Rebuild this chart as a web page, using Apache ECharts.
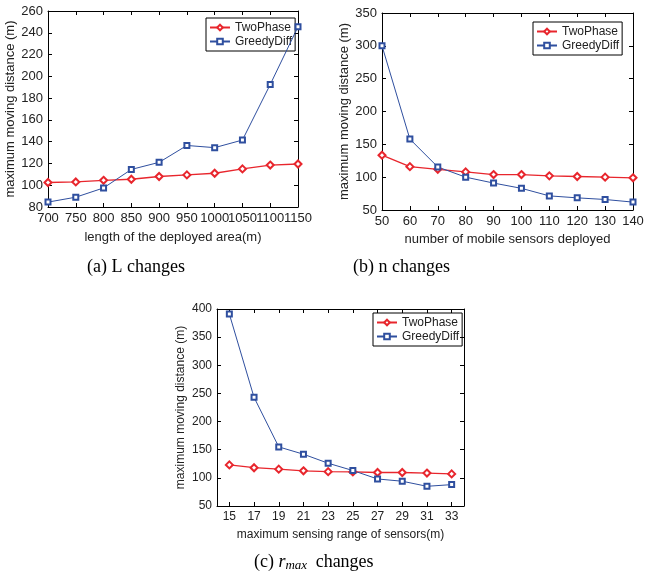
<!DOCTYPE html>
<html><head><meta charset="utf-8">
<script src="https://cdn.jsdelivr.net/npm/echarts@6/dist/echarts.min.js"></script>
<style>html,body{margin:0;padding:0;background:#fff}#c{width:647px;height:579px}</style>
</head><body><div id="c"></div>
<script>
// (a) L changes
const xA = [700, 750, 800, 850, 900, 950, 1000, 1050, 1100, 1150];
const twoA = [102.5, 103, 104.5, 105.5, 108, 109.5, 111, 115, 118.5, 119.5];
const greedyA = [84.5, 89, 97.5, 114.5, 121, 136.5, 134.5, 141.5, 192.5, 245.5];
// (b) n changes
const xB = [50, 60, 70, 80, 90, 100, 110, 120, 130, 140];
const twoB = [133.5, 116, 112, 108, 104, 104, 102, 101, 100, 99];
const greedyB = [300, 158, 115.5, 100, 91, 83, 71.5, 68.5, 66, 62];
// (c) r_max changes
const xC = [15, 17, 19, 21, 23, 25, 27, 29, 31, 33];
const twoC = [123, 118, 115.5, 112.5, 111, 110.5, 109.5, 109.5, 108.5, 107];
const greedyC = [391, 243, 155, 142, 126, 113, 98, 94, 85, 88];
const seriesNames = ['TwoPhase', 'GreedyDiff'];
const xTitles = ['length of the deployed area(m)', 'number of mobile sensors deployed', 'maximum sensing range of sensors(m)'];
const yTitle = 'maximum moving distance (m)';
const captions = ['(a) L changes', '(b) n changes'];

const RED = '#e8262d', BLUE = '#2f4f9f';
const FONT = 'Liberation Sans';
const pairs = (xs, ys) => xs.map((x, i) => [x, ys[i]]);
const plain = v => String(v);

const grids = [
  {left: 48, top: 11, width: 250, height: 196},
  {left: 382, top: 13, width: 251, height: 197},
  {left: 217, top: 309, width: 247, height: 197}
];
const xCfg = [
  {min: 700, max: 1150, interval: 50},
  {min: 50, max: 140, interval: 10},
  {min: 14, max: 34, custom: xC}
];
const yCfg = [
  {min: 80, max: 260, interval: 20},
  {min: 50, max: 350, interval: 50},
  {min: 50, max: 400, interval: 50}
];
const fs = [13, 13, 12];
const xGap = [24, 23, 23];
const yGap = [27, 27, 30];

const xAxis = [], yAxis = [];
grids.forEach((g, i) => {
  const line = {show: true, lineStyle: {color: '#000', width: 1}};
  const baseX = {type: 'value', gridIndex: i, min: xCfg[i].min, max: xCfg[i].max, splitLine: {show: false}, axisLine: line};
  if (xCfg[i].interval) baseX.interval = xCfg[i].interval;
  const tickX = {show: true, inside: true, length: 4, lineStyle: {color: '#000'}};
  if (xCfg[i].custom) tickX.customValues = xCfg[i].custom;
  const lblX = {show: true, color: '#222', fontFamily: FONT, fontSize: fs[i], margin: 5,
    formatter: plain, hideOverlap: false, showMinLabel: true, showMaxLabel: true};
  if (xCfg[i].custom) lblX.customValues = xCfg[i].custom;
  xAxis.push(Object.assign({}, baseX, {position: 'bottom', axisTick: tickX, axisLabel: lblX,
    name: xTitles[i], nameLocation: 'middle', nameGap: xGap[i],
    nameTextStyle: {fontFamily: FONT, fontSize: fs[i], color: '#222'}}));
  xAxis.push(Object.assign({}, baseX, {position: 'top', axisTick: tickX, axisLabel: {show: false}}));
  const baseY = {type: 'value', gridIndex: i, min: yCfg[i].min, max: yCfg[i].max, interval: yCfg[i].interval, splitLine: {show: false}, axisLine: line};
  const tickY = {show: true, inside: true, length: 4, lineStyle: {color: '#000'}};
  yAxis.push(Object.assign({}, baseY, {position: 'left', axisTick: tickY,
    axisLabel: {show: true, color: '#222', fontFamily: FONT, fontSize: fs[i], margin: 5, formatter: plain},
    name: yTitle, nameLocation: 'middle', nameGap: yGap[i],
    nameTextStyle: {fontFamily: FONT, fontSize: fs[i], color: '#222'}}));
  yAxis.push(Object.assign({}, baseY, {position: 'right', axisTick: tickY, axisLabel: {show: false}}));
});

const data = [[twoA, greedyA, xA], [twoB, greedyB, xB], [twoC, greedyC, xC]];
const series = [];
data.forEach((d, i) => {
  series.push({name: seriesNames[0], type: 'line', xAxisIndex: 2 * i, yAxisIndex: 2 * i,
    data: pairs(d[2], d[0]), symbol: 'emptyDiamond', symbolSize: 7, clip: false, z: 5,
    color: RED, lineStyle: {color: RED, width: 1.3}, itemStyle: {color: RED, borderColor: RED, borderWidth: 1.2},
    emphasis: {disabled: true}, animation: false});
  series.push({name: seriesNames[1], type: 'line', xAxisIndex: 2 * i, yAxisIndex: 2 * i,
    data: pairs(d[2], d[1]), symbol: 'emptyRect', symbolSize: 5, clip: false, z: 5,
    color: BLUE, lineStyle: {color: BLUE, width: 1}, itemStyle: {color: BLUE, borderColor: BLUE, borderWidth: 1},
    emphasis: {disabled: true}, animation: false});
});

const legPos = [
  {left: 206, top: 18},
  {left: 533, top: 22},
  {left: 373, top: 313}
];
const legend = legPos.map((p, i) => ({
  left: p.left, top: p.top, orient: 'vertical', align: 'left', z: 1,
  data: seriesNames, itemWidth: 20, itemHeight: 7, itemGap: 1,
  padding: [3, 3, 3, 3], borderColor: '#000', borderWidth: 1,
  textStyle: {fontFamily: FONT, fontSize: 12, color: '#222', lineHeight: 13},
  seriesIndex: [2 * i, 2 * i + 1],
  selectedMode: false
}));

const chart = echarts.init(document.getElementById('c'), null, {renderer: 'canvas'});
chart.setOption({
  animation: false,
  backgroundColor: '#fff',
  grid: grids,
  xAxis, yAxis, series, legend,
  graphic: [
    {type: 'text', left: 87, top: 258, style: {text: captions[0], font: '18px "Liberation Serif"', fill: '#000'}},
    {type: 'text', left: 353, top: 258, style: {text: captions[1], font: '18px "Liberation Serif"', fill: '#000'}},
    {type: 'text', left: 254, top: 553, style: {
      text: '(c) {i|r}{s|max} changes',
      font: '18px "Liberation Serif"', fill: '#000',
      rich: {
        i: {fontFamily: 'Liberation Serif', fontSize: 18, fontStyle: 'italic', fill: '#000'},
        s: {fontFamily: 'Liberation Serif', fontSize: 13, fontStyle: 'italic', fill: '#000', padding: [8, 4, 0, 0]}
      }
    }}
  ]
});
</script></body></html>
